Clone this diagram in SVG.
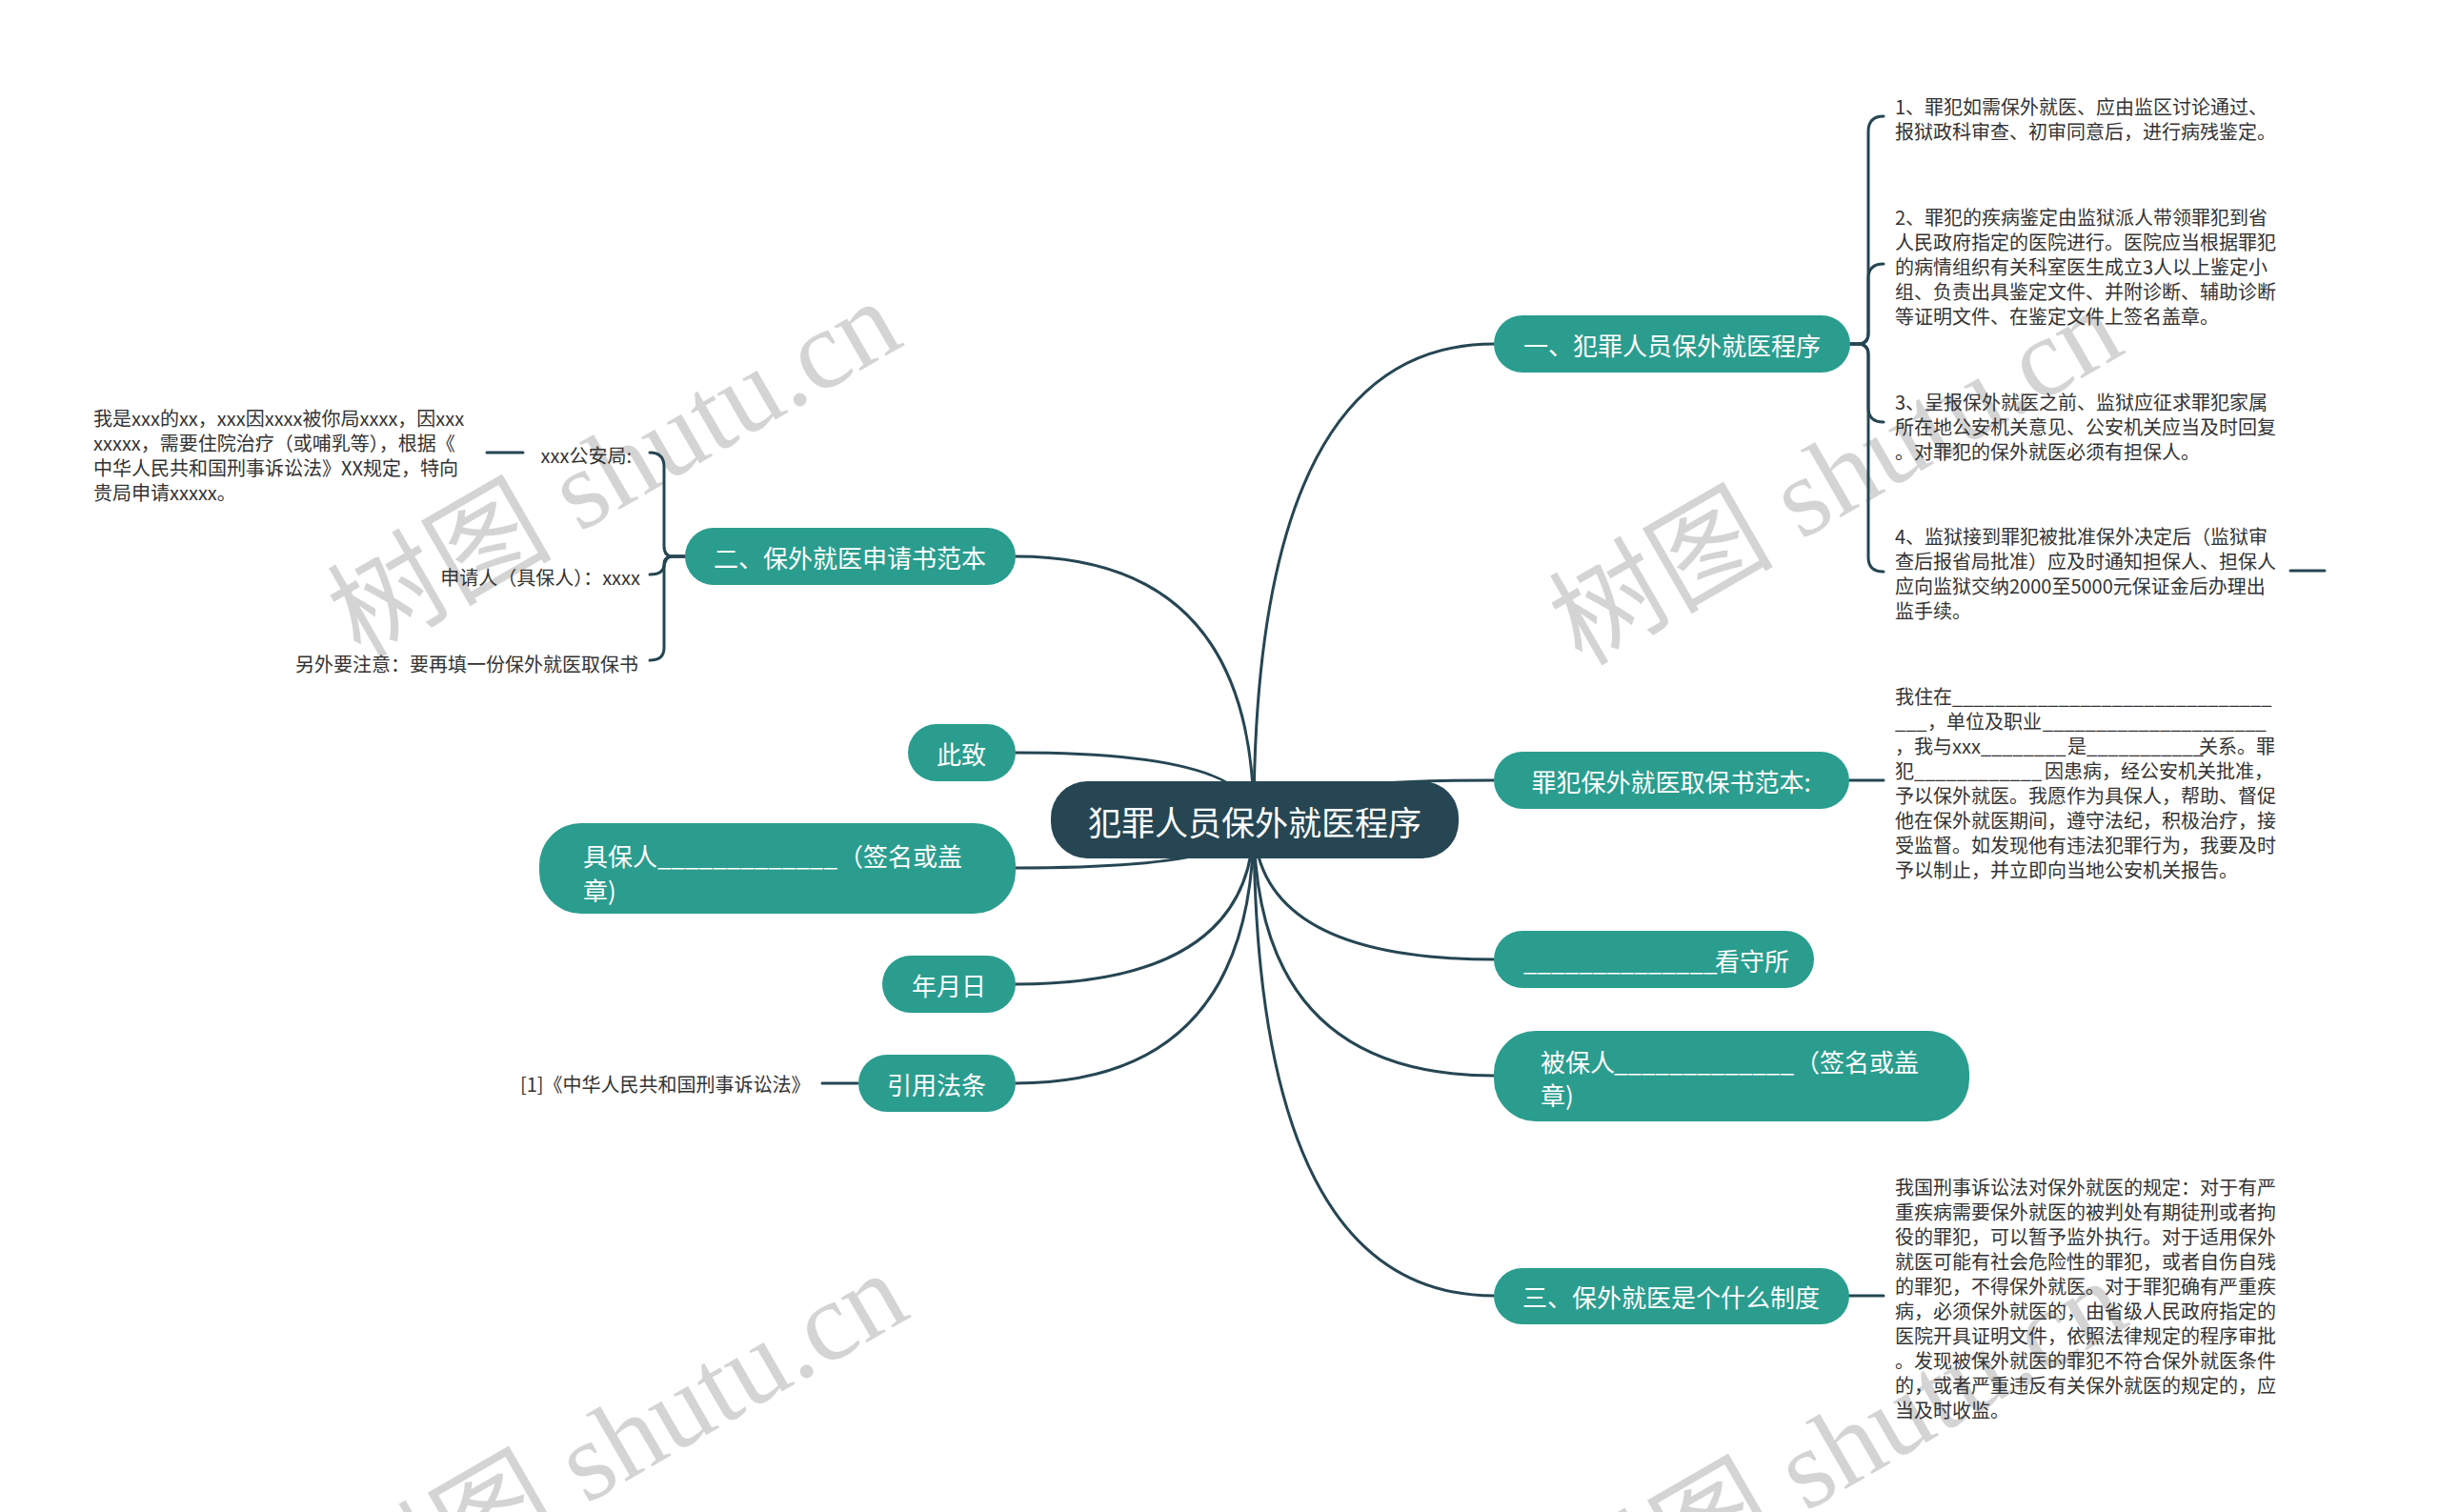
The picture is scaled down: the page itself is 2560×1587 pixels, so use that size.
<svg xmlns="http://www.w3.org/2000/svg" width="2560" height="1587" viewBox="0 0 2560 1587">
<style>
text{font-family:"Noto Sans CJK SC","Microsoft YaHei",sans-serif;dominant-baseline:central}
.conn{fill:none;stroke:#264653;stroke-width:3;stroke-linecap:round}
.main{fill:#2a9d8f}
.root{fill:#264653}
.tm{font-size:26px;fill:#ffffff}
.tr{font-size:35px;fill:#ffffff}
.tl{font-size:20px;fill:#333333}
.wm{font-family:"Liberation Serif","Noto Sans CJK SC",serif;font-size:118px;fill:#000000;fill-opacity:0.17;dominant-baseline:auto}
</style>
<rect width="2560" height="1587" fill="#ffffff"/>
<g id="watermarks">
<text class="wm" transform="translate(378 692) rotate(-30)">树图 shutu.cn</text>
<text class="wm" transform="translate(1660 700) rotate(-30)">树图 shutu.cn</text>
<text class="wm" transform="translate(385 1712) rotate(-30)">树图 shutu.cn</text>
<text class="wm" transform="translate(1665 1720) rotate(-30)">树图 shutu.cn</text>
</g>
<g id="connectors">
<path class="conn" d="M1316 861 Q1316 361 1568 361"/>
<path class="conn" d="M1316 861 Q1316 819 1568 819"/>
<path class="conn" d="M1316 861 Q1316 1007 1568 1007"/>
<path class="conn" d="M1316 861 Q1316 1129 1568 1129"/>
<path class="conn" d="M1316 861 Q1316 1360 1568 1360"/>
<path class="conn" d="M1316 861 Q1316 584 1066 584"/>
<path class="conn" d="M1316 861 Q1316 790 1066 790"/>
<path class="conn" d="M1316 861 Q1316 911 1066 911"/>
<path class="conn" d="M1316 861 Q1316 1033 1066 1033"/>
<path class="conn" d="M1316 861 Q1316 1137 1066 1137"/>
<path class="conn" d="M1942 361 H1950 Q1961 361 1961 350 V138 Q1961 122 1977 122"/>
<path class="conn" d="M1942 361 H1950 Q1961 361 1961 350 V292 Q1961 277 1977 277"/>
<path class="conn" d="M1942 361 H1950 Q1961 361 1961 372 V428 Q1961 443 1977 443"/>
<path class="conn" d="M1942 361 H1950 Q1961 361 1961 372 V585 Q1961 600 1977 600"/>
<path class="conn" d="M2404 599 H2440"/>
<path class="conn" d="M1941 819 H1977"/>
<path class="conn" d="M1941 1360 H1977"/>
<path class="conn" d="M720 584 H706 Q697 584 697 573 V490 Q697 475 682 475"/>
<path class="conn" d="M720 584 H706 Q697 584 697 592 Q697 603 682 603"/>
<path class="conn" d="M720 584 H706 Q697 584 697 597 V680 Q697 693 682 693"/>
<path class="conn" d="M511 475 H549"/>
<path class="conn" d="M863 1137 H900"/>
</g>
<g id="root">
<rect class="root" x="1103" y="820" width="428" height="81" rx="38"/>
<text class="tr" x="1317" y="861" text-anchor="middle">犯罪人员保外就医程序</text>
</g>
<g id="n1">
<rect class="main" x="1568" y="331" width="374" height="60" rx="30"/>
<text class="tm" x="1755" y="361" text-anchor="middle">一、犯罪人员保外就医程序</text>
</g>
<g id="n1-items">
<text class="tl" x="1989" y="111">1、罪犯如需保外就医、应由监区讨论通过、</text>
<text class="tl" x="1989" y="137">报狱政科审查、初审同意后，进行病残鉴定。</text>
<text class="tl" x="1989" y="227">2、罪犯的疾病鉴定由监狱派人带领罪犯到省</text>
<text class="tl" x="1989" y="253">人民政府指定的医院进行。医院应当根据罪犯</text>
<text class="tl" x="1989" y="279">的病情组织有关科室医生成立3人以上鉴定小</text>
<text class="tl" x="1989" y="305">组、负责出具鉴定文件、并附诊断、辅助诊断</text>
<text class="tl" x="1989" y="331">等证明文件、在鉴定文件上签名盖章。</text>
<text class="tl" x="1989" y="421">3、呈报保外就医之前、监狱应征求罪犯家属</text>
<text class="tl" x="1989" y="447">所在地公安机关意见、公安机关应当及时回复</text>
<text class="tl" x="1989" y="473">。对罪犯的保外就医必须有担保人。</text>
<text class="tl" x="1989" y="562">4、监狱接到罪犯被批准保外决定后（监狱审</text>
<text class="tl" x="1989" y="588">查后报省局批准）应及时通知担保人、担保人</text>
<text class="tl" x="1989" y="614">应向监狱交纳2000至5000元保证金后办理出</text>
<text class="tl" x="1989" y="640">监手续。</text>
</g>
<g id="n2">
<rect class="main" x="1568" y="789" width="373" height="60" rx="30"/>
<text class="tm" x="1754" y="819" text-anchor="middle">罪犯保外就医取保书范本:</text>
</g>
<g id="n2-text">
<text class="tl" y="730"><tspan x="1989">我住在</tspan><tspan x="2049">______________________________</tspan></text>
<text class="tl" y="756"><tspan x="1989">___</tspan><tspan x="2023">，单位及职业</tspan><tspan x="2144">_____________________</tspan></text>
<text class="tl" y="782"><tspan x="1989">，我与xxx</tspan><tspan x="2079">________</tspan><tspan x="2170">是</tspan><tspan x="2190">___________</tspan><tspan x="2308">关系。罪</tspan></text>
<text class="tl" y="808"><tspan x="1989">犯</tspan><tspan x="2009">____________</tspan><tspan x="2146">因患病，经公安机关批准，</tspan></text>
<text class="tl" x="1989" y="834">予以保外就医。我愿作为具保人，帮助、督促</text>
<text class="tl" x="1989" y="860">他在保外就医期间，遵守法纪，积极治疗，接</text>
<text class="tl" x="1989" y="886">受监督。如发现他有违法犯罪行为，我要及时</text>
<text class="tl" x="1989" y="912">予以制止，并立即向当地公安机关报告。</text>
</g>
<g id="n3">
<rect class="main" x="1568" y="977" width="336" height="60" rx="30"/>
<text class="tm" y="1007"><tspan x="1599">______________</tspan><tspan x="1800">看守所</tspan></text>
</g>
<g id="n4">
<rect class="main" x="1568" y="1082" width="499" height="95" rx="44"/>
<text class="tm" y="1113"><tspan x="1617">被保人</tspan><tspan x="1694">_____________</tspan><tspan x="1884">（签名或盖</tspan></text>
<text class="tm" x="1617" y="1148">章)</text>
</g>
<g id="n5">
<rect class="main" x="1568" y="1331" width="373" height="59" rx="29.5"/>
<text class="tm" x="1754" y="1360" text-anchor="middle">三、保外就医是个什么制度</text>
</g>
<g id="n5-text">
<text class="tl" x="1989" y="1245">我国刑事诉讼法对保外就医的规定：对于有严</text>
<text class="tl" x="1989" y="1271">重疾病需要保外就医的被判处有期徒刑或者拘</text>
<text class="tl" x="1989" y="1297">役的罪犯，可以暂予监外执行。对于适用保外</text>
<text class="tl" x="1989" y="1323">就医可能有社会危险性的罪犯，或者自伤自残</text>
<text class="tl" x="1989" y="1349">的罪犯，不得保外就医。对于罪犯确有严重疾</text>
<text class="tl" x="1989" y="1375">病，必须保外就医的，由省级人民政府指定的</text>
<text class="tl" x="1989" y="1401">医院开具证明文件，依照法律规定的程序审批</text>
<text class="tl" x="1989" y="1427">。发现被保外就医的罪犯不符合保外就医条件</text>
<text class="tl" x="1989" y="1453">的，或者严重违反有关保外就医的规定的，应</text>
<text class="tl" x="1989" y="1479">当及时收监。</text>
</g>
<g id="n6">
<rect class="main" x="719" y="554" width="347" height="60" rx="30"/>
<text class="tm" x="892" y="584" text-anchor="middle">二、保外就医申请书范本</text>
</g>
<g id="n6-items">
<text class="tl" x="663" y="477" text-anchor="end">xxx公安局:</text>
<text class="tl" x="98" y="438">我是xxx的xx，xxx因xxxx被你局xxxx，因xxx</text>
<text class="tl" x="98" y="464">xxxxx，需要住院治疗（或哺乳等），根据《</text>
<text class="tl" x="98" y="490">中华人民共和国刑事诉讼法》XX规定，特向</text>
<text class="tl" x="98" y="516">贵局申请xxxxx。</text>
<text class="tl" x="672" y="605" text-anchor="end">申请人（具保人）：xxxx</text>
<text class="tl" x="670" y="696" text-anchor="end">另外要注意：要再填一份保外就医取保书</text>
</g>
<g id="n7">
<rect class="main" x="953" y="760" width="113" height="60" rx="30"/>
<text class="tm" x="1009" y="790" text-anchor="middle">此致</text>
</g>
<g id="n8">
<rect class="main" x="566" y="864" width="500" height="95" rx="44"/>
<text class="tm" y="897"><tspan x="612">具保人</tspan><tspan x="690">_____________</tspan><tspan x="880">（签名或盖</tspan></text>
<text class="tm" x="612" y="933">章)</text>
</g>
<g id="n9">
<rect class="main" x="926" y="1003" width="140" height="60" rx="30"/>
<text class="tm" x="996" y="1033" text-anchor="middle">年月日</text>
</g>
<g id="n10">
<rect class="main" x="901" y="1107" width="165" height="60" rx="30"/>
<text class="tm" x="983" y="1137" text-anchor="middle">引用法条</text>
</g>
<g id="n10-text">
<text class="tl" x="546" y="1137">[1]《中华人民共和国刑事诉讼法》</text>
</g>
</svg>
